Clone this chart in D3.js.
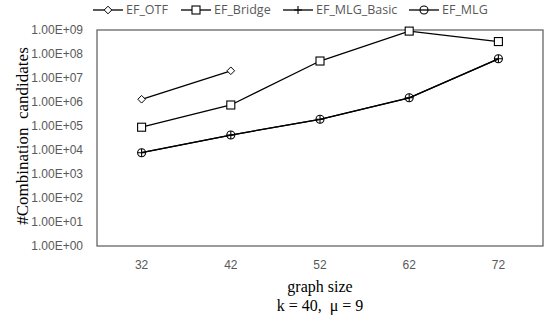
<!DOCTYPE html>
<meta charset="utf-8">
<style>
body { margin: 0; background: #fff; }
svg { font-family: "Open Sans", "Liberation Sans", Arial, sans-serif; }
.tick text { fill: #595959; font-size: 12px; }
.title { font-family: "Liberation Serif", "Times New Roman", serif; fill: #000; }
</style>
<body>
<div id="chart"></div>
<script src="https://d3js.org/d3.v7.min.js"></script>
<script>

var sizes = [32, 42, 52, 62, 72];
var yTicks = [1e0, 1e1, 1e2, 1e3, 1e4, 1e5, 1e6, 1e7, 1e8, 1e9];

var efOtf = [1.3e6, 2.0e7, null, null, null];
var efBridge = [8.9e4, 7.5e5, 5.1e7, 9.0e8, 3.3e8];
var efMlgBasic = [7.7e3, 4.2e4, 1.9e5, 1.5e6, 6.3e7];
var efMlg = [7.7e3, 4.2e4, 1.9e5, 1.5e6, 6.3e7];

var series = [
  { name: 'EF_OTF', values: efOtf, marker: 'diamond', lx: 93 },
  { name: 'EF_Bridge', values: efBridge, marker: 'square', lx: 181 },
  { name: 'EF_MLG_Basic', values: efMlgBasic, marker: 'plus', lx: 283 },
  { name: 'EF_MLG', values: efMlg, marker: 'circle', lx: 409 }
];

var W = 550, H = 322;
var margin = { top: 30, right: 7, bottom: 76, left: 97 };
var width = W - margin.left - margin.right;
var height = H - margin.top - margin.bottom;

var svg = d3.select('#chart').append('svg')
  .attr('width', W)
  .attr('height', H);

var g = svg.append('g')
  .attr('transform', 'translate(' + [margin.left, margin.top] + ')');

var x = d3.scaleBand().domain(sizes).range([0, width]);
var y = d3.scaleLog().domain([1, 1e9]).range([height, 0]);

// axes (labels only)
var yAxis = g.append('g')
  .call(d3.axisLeft(y).tickValues(yTicks).tickSize(0).tickPadding(14)
    .tickFormat(function (d) {
      var e = Math.round(Math.log10(d));
      return '1.00E+' + (e < 10 ? '0' : '') + e;
    }));
yAxis.select('.domain').remove();

var xAxis = g.append('g')
  .attr('transform', 'translate(0,' + height + ')')
  .call(d3.axisBottom(x).tickSize(0).tickPadding(14));
xAxis.select('.domain').remove();

// plot border
g.append('rect')
  .attr('width', width)
  .attr('height', height)
  .attr('fill', 'none')
  .attr('stroke', '#595959')
  .attr('stroke-width', 1.2);

var line = d3.line()
  .defined(function (d) { return d != null; })
  .x(function (d, i) { return x(sizes[i]) + x.bandwidth() / 2; })
  .y(function (d) { return y(d); });

function drawMarker(sel, type) {
  if (type === 'diamond') {
    sel.append('path').attr('d', 'M0,-3.8L3.8,0L0,3.8L-3.8,0Z')
      .attr('fill', '#fff').attr('stroke', '#000').attr('stroke-width', 1);
  } else if (type === 'square') {
    sel.append('rect').attr('x', -4).attr('y', -4).attr('width', 8).attr('height', 8)
      .attr('fill', '#fff').attr('stroke', '#000').attr('stroke-width', 1.1);
  } else if (type === 'plus') {
    sel.append('path').attr('d', 'M-4,0H4M0,-4V4')
      .attr('stroke', '#000').attr('stroke-width', 1.1);
  } else if (type === 'circle') {
    sel.append('circle').attr('r', 4)
      .attr('fill', 'none').attr('stroke', '#000').attr('stroke-width', 1.1);
  }
}

series.forEach(function (s) {
  g.append('path')
    .datum(s.values)
    .attr('fill', 'none')
    .attr('stroke', '#000')
    .attr('stroke-width', 1.3)
    .attr('d', line);
});

series.forEach(function (s) {
  s.values.forEach(function (v, i) {
    if (v == null) return;
    var m = g.append('g')
      .attr('transform', 'translate(' + [x(sizes[i]) + x.bandwidth() / 2, y(v)] + ')');
    drawMarker(m, s.marker);
  });
});

// legend
var legend = svg.append('g');
series.forEach(function (s) {
  var item = legend.append('g').attr('transform', 'translate(' + [s.lx, 10] + ')');
  item.append('line').attr('x1', 0).attr('x2', 30)
    .attr('stroke', '#000').attr('stroke-width', 1.3);
  var m = item.append('g').attr('transform', 'translate(15,0)');
  drawMarker(m, s.marker);
  item.append('text')
    .attr('x', 33)
    .attr('dy', '0.35em')
    .attr('font-size', '12.5px')
    .attr('fill', '#595959')
    .text(s.name);
});

// axis titles
svg.append('text')
  .attr('class', 'title')
  .attr('transform', 'translate(22,' + (margin.top + height / 2 - 2) + ') rotate(-90)')
  .attr('text-anchor', 'middle')
  .attr('dy', '0.35em')
  .attr('font-size', '17px')
  .style('white-space', 'pre')
  .text('#Combination  candidates');

svg.append('text')
  .attr('class', 'title')
  .attr('x', margin.left + width / 2)
  .attr('y', 292)
  .attr('text-anchor', 'middle')
  .attr('font-size', '16px')
  .text('graph size');

svg.append('text')
  .attr('class', 'title')
  .attr('x', margin.left + width / 2)
  .attr('y', 311)
  .attr('text-anchor', 'middle')
  .attr('font-size', '16px')
  .style('white-space', 'pre')
  .text('k = 40,  \u03bc = 9');

</script>
